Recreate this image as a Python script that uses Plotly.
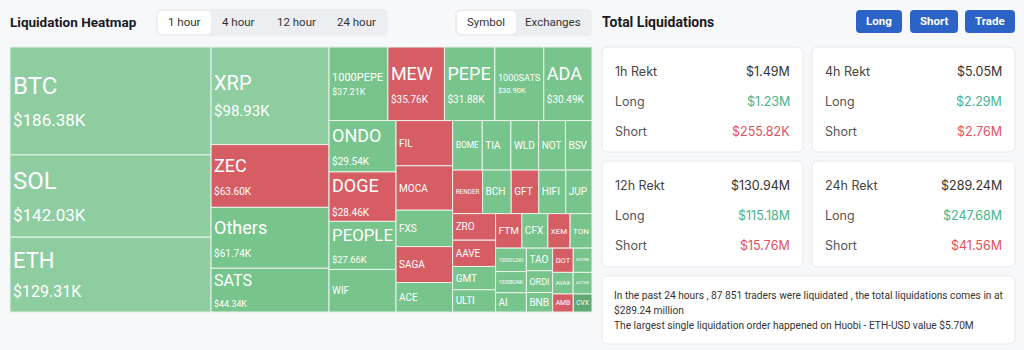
import plotly.graph_objects as go

# ---------------- data ----------------
symbols = ["BTC", "SOL", "ETH", "XRP", "ZEC", "Others", "SATS",
           "1000PEPE", "MEW", "PEPE", "1000SATS", "ADA",
           "ONDO", "DOGE", "PEOPLE", "WIF",
           "FIL", "MOCA", "FXS", "SAGA", "ACE",
           "BOME", "TIA", "WLD", "NOT", "BSV",
           "RENDER", "BCH", "GFT", "HIFI", "JUP",
           "ZRO", "AAVE", "GMT", "ULTI",
           "FTM", "CFX", "XEM", "TON",
           "1000FLOKI", "1000BONK", "AI", "TAO", "ORDI", "BNB",
           "DOT", "BIGTIME", "AVAX", "AUCTION", "AMB", "CVX"]
values_k = [186.38, 142.03, 129.31, 98.93, 63.60, 61.74, 44.34,
            37.21, 35.76, 31.88, 30.90, 30.49,
            29.54, 28.46, 27.66, 24.5,
            22.0, 21.6, 17.7, 17.5, 14.3,
            12.6, 12.2, 11.8, 11.4, 11.3,
            11.2, 10.7, 10.3, 10.1, 9.8,
            9.8, 9.7, 8.6, 8.2,
            7.8, 7.7, 6.6, 6.5,
            6.2, 5.6, 5.1, 5.1, 4.9, 4.4,
            4.3, 3.9, 3.8, 3.5, 3.2, 2.9]
# L = mostly longs liquidated (green), S = mostly shorts (red)
sides = ["L", "L", "L", "L", "S", "L", "L",
         "L", "S", "L", "L", "L",
         "L", "S", "L", "L",
         "S", "S", "L", "S", "L",
         "L", "L", "L", "L", "L",
         "S", "L", "S", "L", "L",
         "S", "S", "L", "L",
         "S", "L", "S", "L",
         "L", "L", "L", "L", "L", "L",
         "S", "L", "L", "L", "S", "L"]

time_tabs = ["1 hour", "4 hour", "12 hour", "24 hour"]
view_tabs = ["Symbol", "Exchanges"]
action_buttons = ["Long", "Short", "Trade"]

periods = ["1h Rekt", "4h Rekt", "12h Rekt", "24h Rekt"]
rekt_total = ["$1.49M", "$5.05M", "$130.94M", "$289.24M"]
rekt_long = ["$1.23M", "$2.29M", "$115.18M", "$247.68M"]
rekt_short = ["$255.82K", "$2.76M", "$15.76M", "$41.56M"]

summary_lines = [
    "In the past 24 hours , 87 851 traders were liquidated , the total liquidations comes in at",
    "$289.24 million",
    "The largest single liquidation order happened on Huobi - ETH-USD value $5.70M",
]

# ---------------- helpers ----------------
W, H = 1024, 350
BG = "#f7f8fa"


def X(p):
    return p / W


def Y(p):
    return 1 - p / H


def rrect(x0, y0, x1, y1, r, fill, line="rgba(0,0,0,0)", lw=0):
    path = (f"M {X(x0 + r)},{Y(y0)} L {X(x1 - r)},{Y(y0)} "
            f"Q {X(x1)},{Y(y0)} {X(x1)},{Y(y0 + r)} L {X(x1)},{Y(y1 - r)} "
            f"Q {X(x1)},{Y(y1)} {X(x1 - r)},{Y(y1)} L {X(x0 + r)},{Y(y1)} "
            f"Q {X(x0)},{Y(y1)} {X(x0)},{Y(y1 - r)} L {X(x0)},{Y(y0 + r)} "
            f"Q {X(x0)},{Y(y0)} {X(x0 + r)},{Y(y0)} Z")
    return dict(type="path", xref="paper", yref="paper", path=path,
                fillcolor=fill, line=dict(color=line, width=lw), layer="below")


def label(x, y, text, size=12, color="#333", anchor="left", bold=False, family="Inter"):
    if bold:
        text = f"<b>{text}</b>"
    return dict(x=X(x), y=Y(y), xref="paper", yref="paper", text=text,
                showarrow=False, xanchor=anchor, yanchor="middle",
                font=dict(size=size, color=color, family=family))


# ---------------- treemap ----------------
ids = ["root"] + symbols
labels = [""] + symbols
parents = [""] + ["root"] * len(symbols)
vals = [0] + values_k
colors, texts, sizes = [BG], [""], [10]
for s, v, side in zip(symbols, values_k, sides):
    if side == "S":
        colors.append("#d65d64")
    elif v >= 90:
        colors.append("#8ecd9f")
    elif v < 3:
        colors.append("#5da874")
    else:
        colors.append("#77c48c")
    if v >= 140:
        ls, vs = 24, 17
    elif v >= 120:
        ls, vs = 22, 16
    elif v >= 90:
        ls, vs = 20, 15
    elif v >= 27:
        ls, vs = (11, 9) if len(s) > 6 else (18, 10)
    else:
        ls, vs = 10, 0
    sizes.append(ls)
    if vs:
        texts.append(f"{s}<br><span style='font-size:{vs}px'>${v:.2f}K</span>")
    else:
        texts.append(s)

fig = go.Figure(go.Treemap(
    ids=ids,
    labels=labels,
    parents=parents,
    values=vals,
    branchvalues="remainder",
    text=texts,
    textinfo="text",
    textposition="middle left",
    textfont=dict(color="white", size=sizes, family="Roboto"),
    marker=dict(colors=colors, line=dict(color="#eaf3ec", width=1),
                pad=dict(t=0, l=0, r=0, b=0)),
    tiling=dict(packing="squarify", squarifyratio=1.618, pad=0),
    pathbar=dict(visible=False),
    sort=True,
    hoverinfo="label+value",
    domain=dict(x=[X(10), X(592)], y=[Y(312), Y(47)]),
))

shapes, annos = [], []

# left header
annos.append(label(8, 22, "Liquidation Heatmap", size=13.5, color="#1b1b1f", bold=True, family="Roboto"))
shapes.append(rrect(156, 9, 388, 36, 6, "#eceef1"))
shapes.append(rrect(158, 11, 211, 34, 5, "#ffffff"))
for cx, t in zip([184, 238, 296, 356], time_tabs):
    annos.append(label(cx, 22, t, size=11.5, color="#333", anchor="center", family="Roboto"))
shapes.append(rrect(455, 9, 592, 36, 6, "#eceef1"))
shapes.append(rrect(457, 11, 516, 34, 5, "#ffffff"))
for cx, t in zip([486, 553], view_tabs):
    annos.append(label(cx, 22, t, size=11.5, color="#333", anchor="center", family="Roboto"))

# right header
annos.append(label(600, 22, "Total Liquidations", size=14, color="#1b1b1f", bold=True, family="Roboto"))
for (bx0, bx1), t in zip([(856, 902), (910, 958), (965, 1015)], action_buttons):
    shapes.append(rrect(bx0, 10, bx1, 33, 4, "#2b63c6"))
    annos.append(label((bx0 + bx1) / 2, 21.5, t, size=11.5, color="white", anchor="center",
                       bold=True, family="Roboto"))

# cards
card_boxes = [(602, 47, 803, 152), (812, 47, 1015, 152),
              (602, 161, 803, 267), (812, 161, 1015, 267)]
for i, (cx0, cy0, cx1, cy1) in enumerate(card_boxes):
    shapes.append(rrect(cx0, cy0, cx1, cy1, 6, "#ffffff", "#e6e8ec", 1))
    lx, rx = cx0 + 11, cx1 - 11
    rows = [(periods[i], rekt_total[i], "#333"),
            ("Long", rekt_long[i], "#46b38b"),
            ("Short", rekt_short[i], "#e2505c")]
    for j, (lab, val, col) in enumerate(rows):
        yy = cy0 + 24.5 + 30 * j
        annos.append(label(lx, yy, lab, size=12.5, color="#444" if j == 0 else "#555"))
        annos.append(label(rx, yy, val, size=12.5, color=col, anchor="right"))

# summary card
shapes.append(rrect(602, 276, 1015, 344, 6, "#ffffff", "#e6e8ec", 1))
for k, line in enumerate(summary_lines):
    annos.append(label(612, 295 + 15 * k, line, size=10.2, color="#333", family="Roboto"))

fig.update_layout(
    width=W, height=H,
    margin=dict(l=0, r=0, t=0, b=0),
    paper_bgcolor=BG,
    plot_bgcolor=BG,
    shapes=shapes,
    annotations=annos,
    showlegend=False,
)

fig.write_html("out.html", config={"displayModeBar": False})
